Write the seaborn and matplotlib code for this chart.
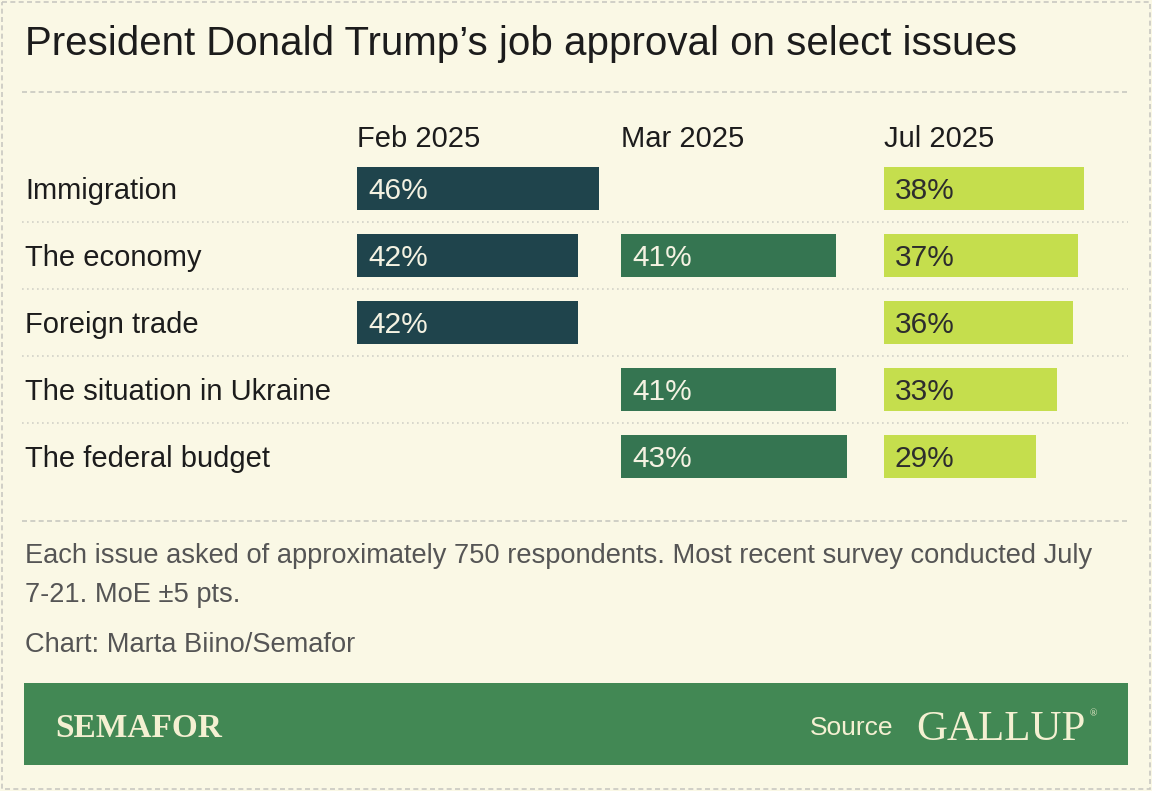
import numpy as np
import pandas as pd
import seaborn as sns
import matplotlib.pyplot as plt
from matplotlib import transforms
from matplotlib.patches import Rectangle

# data (NaN = issue not asked that month)
issues = ['Immigration', 'The economy', 'Foreign trade', 'The situation in Ukraine', 'The federal budget']
months = ['Feb 2025', 'Mar 2025', 'Jul 2025']
feb = [46, 42, 42, np.nan, np.nan]
mar = [np.nan, 41, np.nan, 41, 43]
jul = [38, 37, 36, 33, 29]

title = 'President Donald Trump\u2019s job approval on select issues'
note_lines = ['Each issue asked of approximately 750 respondents. Most recent survey conducted July',
              '7-21. MoE \u00b15 pts.']
credit = 'Chart: Marta Biino/Semafor'

bar_colors = ['#1f444c', '#357551', '#c5de4d']
label_colors = ['#f4f2e2', '#f4f2e2', '#2d2d2d']
BG = '#faf8e5'
INK = '#1c1c1c'
W, H = 1152, 791

sns.set_theme(style='white')
plt.rcParams['font.family'] = ['Liberation Sans', 'DejaVu Sans']

fig = plt.figure(figsize=(W / 100, H / 100), dpi=100, facecolor=BG)

# pixel-space canvas for frame, rules and text
bg = fig.add_axes([0, 0, 1, 1])
bg.set_xlim(0, W)
bg.set_ylim(H, 0)
bg.axis('off')

bg.add_patch(Rectangle((2, 2), W - 4, H - 4, fill=False, ec='#c9c9c2', lw=1.2, ls=(0, (3, 2))))
bg.text(25, 55, title, fontsize=29, color=INK, va='baseline')
bg.plot([22, 1128], [92, 92], color='#c8c8c0', lw=1.2, ls=(0, (3, 2)))

row_top, row_h = 154.5, 67
col_left = [357, 621, 884]
col_w = 250
px_per_pt = 5.25

for i, issue in enumerate(issues):
    yc = row_top + (i + 0.5) * row_h
    bg.text(25, yc + 11, issue, fontsize=21, color=INK, va='baseline')
# dotted separators between rows
for i in range(len(issues) - 1):
    y = row_top + (i + 1) * row_h
    bg.plot([22, 1128], [y, y], color='#d2d2c8', lw=1.2, ls=(0, (1, 2)))

df = pd.DataFrame({'issue': issues, 'Feb 2025': feb, 'Mar 2025': mar, 'Jul 2025': jul})
long = df.melt(id_vars='issue', var_name='month', value_name='approve').dropna()

for k, month in enumerate(months):
    ax = fig.add_axes([col_left[k] / W, 1 - (row_top + len(issues) * row_h) / H,
                       col_w / W, len(issues) * row_h / H])
    sub = long[long.month == month]
    sns.barplot(data=sub, x='approve', y='issue', order=issues, color=bar_colors[k],
                width=43 / 67, saturation=1, errorbar=None, linewidth=0, ax=ax)
    ax.set_xlim(0, col_w / px_per_pt)
    ax.set_ylim(len(issues) - 0.5, -0.5)
    ax.axis('off')
    ax.patch.set_alpha(0)
    off = transforms.offset_copy(ax.transData, fig=fig, x=11, y=-11, units='dots')
    for _, r in sub.iterrows():
        ax.text(0, issues.index(r.issue), f'{r.approve:.0f}%', transform=off,
                ha='left', va='baseline', fontsize=21.5, color=label_colors[k])
    bg.text(col_left[k], 147, month, fontsize=21, color=INK, va='baseline')

bg.plot([22, 1128], [521, 521], color='#c8c8c0', lw=1.2, ls=(0, (3, 2)))
bg.text(25, 563, note_lines[0], fontsize=19.6, color='#555555', va='baseline')
bg.text(25, 602, note_lines[1], fontsize=19.6, color='#555555', va='baseline')
bg.text(25, 652, credit, fontsize=19.6, color='#555555', va='baseline')

# footer band
bg.add_patch(Rectangle((24, 683), 1104, 82, color='#428854', lw=0))
bg.text(55, 737, 'SEMAFOR', fontsize=24, color='#f4f0d2', va='baseline',
        family='Liberation Serif', weight='bold')
bg.text(893, 735, 'Source', fontsize=19, color='#f4f0d2', va='baseline', ha='right')
bg.text(916, 740, 'GALLUP', fontsize=31, color='#f4f0d2', va='baseline', family='Liberation Serif')
bg.text(1090, 716, '\u00ae', fontsize=7, color='#f4f0d2', va='baseline', family='Liberation Serif')

fig.savefig('out.png', dpi=100, facecolor=BG)
